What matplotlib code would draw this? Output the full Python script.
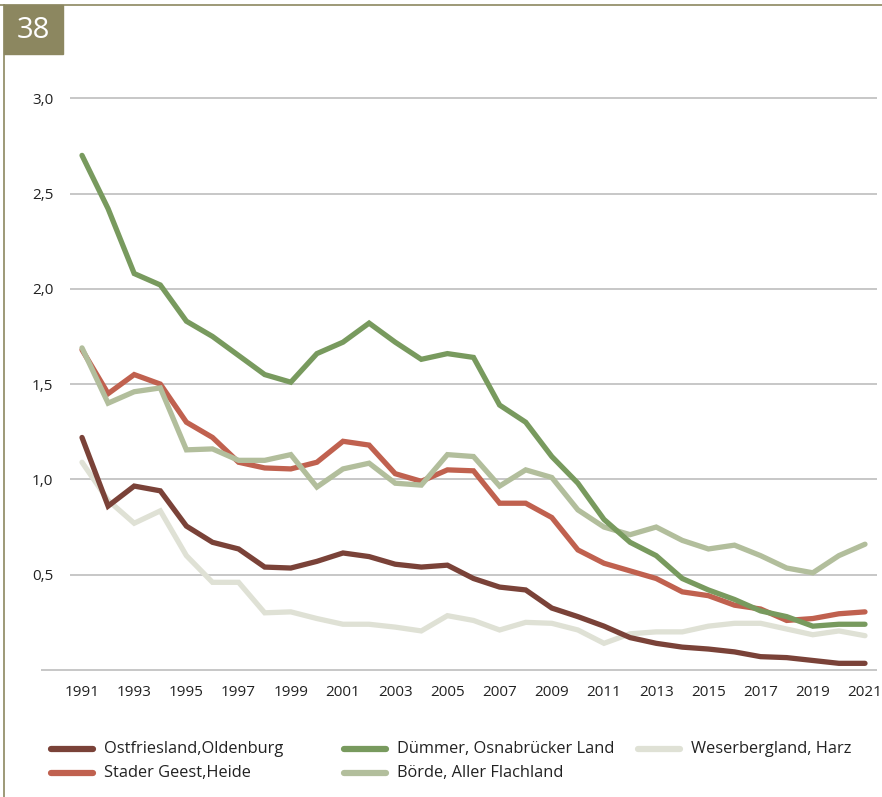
import matplotlib.pyplot as plt
from matplotlib.lines import Line2D
from matplotlib.patches import Rectangle

# Data
years = list(range(1991, 2022))

ostfriesland = [1.22, 0.86, 0.965, 0.94, 0.755, 0.67, 0.635, 0.54, 0.535, 0.57,
                0.614, 0.595, 0.555, 0.54, 0.55, 0.48, 0.435, 0.42, 0.325, 0.28,
                0.23, 0.17, 0.14, 0.12, 0.11, 0.095, 0.07, 0.065, 0.05, 0.035, 0.035]
stader = [1.68, 1.45, 1.55, 1.50, 1.30, 1.22, 1.09, 1.06, 1.055, 1.09,
          1.20, 1.18, 1.03, 0.99, 1.05, 1.045, 0.875, 0.875, 0.80, 0.63,
          0.56, 0.52, 0.48, 0.41, 0.39, 0.34, 0.32, 0.26, 0.27, 0.295, 0.305]
duemmer = [2.70, 2.42, 2.08, 2.02, 1.83, 1.75, 1.65, 1.55, 1.51, 1.66,
           1.72, 1.82, 1.72, 1.63, 1.66, 1.64, 1.39, 1.30, 1.12, 0.98,
           0.79, 0.67, 0.60, 0.48, 0.42, 0.37, 0.31, 0.28, 0.23, 0.24, 0.24]
boerde = [1.69, 1.40, 1.46, 1.48, 1.155, 1.16, 1.10, 1.10, 1.13, 0.96,
          1.055, 1.085, 0.98, 0.97, 1.13, 1.12, 0.965, 1.05, 1.01, 0.84,
          0.75, 0.71, 0.75, 0.68, 0.635, 0.655, 0.60, 0.535, 0.51, 0.60, 0.66]
weser = [1.09, 0.89, 0.77, 0.835, 0.60, 0.46, 0.46, 0.30, 0.305, 0.27,
         0.24, 0.24, 0.225, 0.205, 0.285, 0.26, 0.21, 0.25, 0.245, 0.21,
         0.14, 0.19, 0.20, 0.20, 0.23, 0.245, 0.245, 0.215, 0.185, 0.205, 0.18]

labels = ["Ostfriesland,Oldenburg", "Stader Geest,Heide", "Dümmer, Osnabrücker Land",
          "Börde, Aller Flachland", "Weserbergland, Harz"]
series = [ostfriesland, stader, duemmer, boerde, weser]
colors = ["#7A4238", "#C0614F", "#789A5E", "#B2BE9C", "#DFE1D5"]
zorders = [6, 3, 5, 4, 2]

yticks = [0.5, 1.0, 1.5, 2.0, 2.5, 3.0]
ytick_labels = ["0,5", "1,0", "1,5", "2,0", "2,5", "3,0"]
xticks = list(range(1991, 2022, 2))

W, H = 882, 797
fig = plt.figure(figsize=(W / 100, H / 100), dpi=100)
ax = fig.add_axes([70 / W, 127 / H, 807 / W, 3.1 * 190.6 / H])

font = ["Open Sans", "DejaVu Sans"]

ax.set_xlim(1990.54, 2021.46)
ax.set_ylim(0, 3.1)

# grid lines
for y in yticks:
    ax.axhline(y, color="#BDBDBD", lw=1.2, zorder=1)
ax.hlines(0, 1989.43, 2021.46, color="#BDBDBD", lw=1.2, clip_on=False, zorder=1)

for vals, lab, col, z in zip(series, labels, colors, zorders):
    ax.plot(years, vals, color=col, lw=3.8, label=lab, zorder=z,
            solid_joinstyle="miter", solid_capstyle="round")

for s in ax.spines.values():
    s.set_visible(False)
ax.set_yticks(yticks)
ax.set_yticklabels(ytick_labels, fontfamily=font, fontsize=11, color="#222222")
ax.set_xticks(xticks)
ax.set_xticklabels([str(x) for x in xticks], fontfamily=font, fontsize=11,
                   color="#222222")
ax.tick_params(axis="y", length=0, pad=12)
ax.tick_params(axis="x", length=0, pad=11)

# legend, placed by hand in pixel positions
leg_pos = [(51, 749), (51, 773), (344, 749), (344, 773), (638, 749)]
for (px, py), lab, col in zip(leg_pos, labels, colors):
    fy = 1 - py / H
    fig.add_artist(Line2D([px / W, (px + 42) / W], [fy, fy], color=col, lw=4.5,
                          solid_capstyle="round", transform=fig.transFigure))
    fig.text((px + 53) / W, fy, lab, ha="left", va="center", fontsize=11.8,
             family=font, color="#222222")

# frame lines and page badge
olive = "#8C8760"
fig.add_artist(Line2D([0, 1], [1 - 5 / H, 1 - 5 / H], color=olive, lw=1.2,
                      transform=fig.transFigure))
fig.add_artist(Line2D([4 / W, 4 / W], [0, 1 - 5 / H], color=olive, lw=1.2,
                      transform=fig.transFigure))
fig.add_artist(Rectangle((4 / W, 1 - 54 / H), 59 / W, 49 / H, color=olive,
                         transform=fig.transFigure))
fig.text(33 / W, 1 - 30 / H, "38", ha="center", va="center", fontsize=21,
         color="white", family=font)

fig.savefig("out.png", dpi=100)
